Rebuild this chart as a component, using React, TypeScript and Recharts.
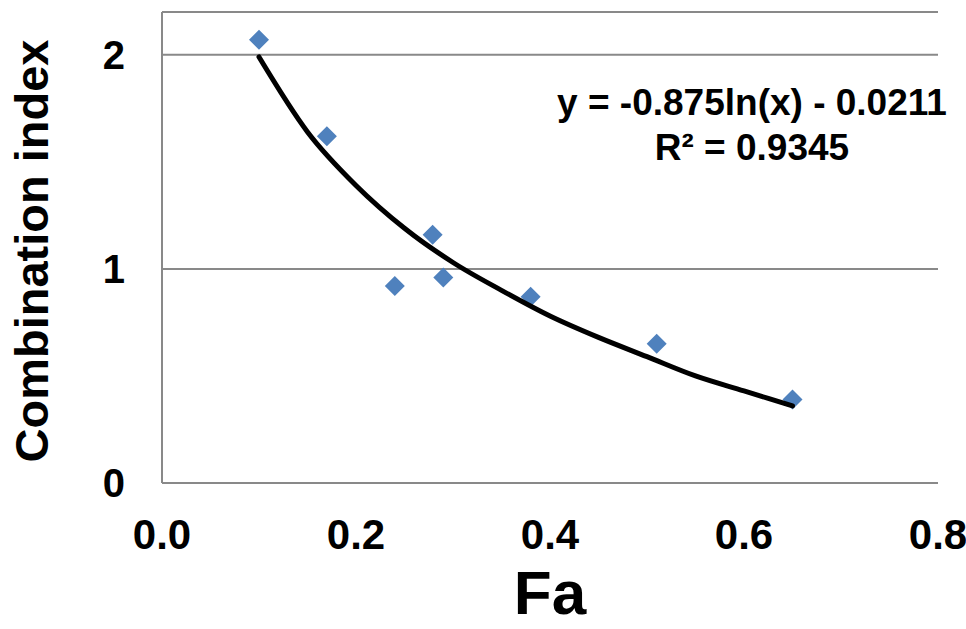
import React from 'react';
import {
  ScatterChart,
  Scatter,
  XAxis,
  YAxis,
  CartesianGrid,
} from 'recharts';

// measured points (Fa vs combination index)
const faValues = [0.1, 0.17, 0.24, 0.279, 0.29, 0.38, 0.51, 0.65];
const ciValues = [2.07, 1.62, 0.92, 1.16, 0.96, 0.87, 0.65, 0.39];

// logarithmic trendline
const trendFa = [0.1, 0.15, 0.2, 0.25, 0.3, 0.35, 0.4, 0.45, 0.5, 0.55, 0.6, 0.65];
const trendCi = [1.99, 1.64, 1.39, 1.19, 1.03, 0.9, 0.78, 0.68, 0.59, 0.5, 0.43, 0.36];

const xTicks = [0, 0.2, 0.4, 0.6, 0.8];
const yTicks = [0, 1, 2];

const equationLines = ['y = -0.875ln(x) - 0.0211', 'R² = 0.9345'];

const points = faValues.map((x, i) => ({ x, y: ciValues[i] }));
const trend = trendFa.map((x, i) => ({ x, y: trendCi[i] }));

const FONT = '"Liberation Sans", Arial, sans-serif';
const AXIS_GRAY = '#898989';

const Diamond = (props: any) => {
  const { cx, cy } = props;
  const r = 10;
  return (
    <polygon
      points={`${cx},${cy - r} ${cx + r},${cy} ${cx},${cy + r} ${cx - r},${cy}`}
      fill="#4F81BD"
    />
  );
};

const NoDot = () => <g />;

export default function App() {
  return (
    <div style={{ position: 'absolute', left: 0, top: 0, width: 966, height: 629, background: '#fff' }}>
      <ScatterChart
        width={966}
        height={629}
        margin={{ top: 12, right: 28, bottom: 0, left: 0 }}
      >
        <CartesianGrid vertical={false} stroke={AXIS_GRAY} strokeWidth={2} />
        <XAxis
          type="number"
          dataKey="x"
          domain={[0, 0.8]}
          ticks={xTicks}
          tickFormatter={(v: number) => v.toFixed(1)}
          height={146}
          tickLine={false}
          tickSize={0}
          tickMargin={36}
          axisLine={{ stroke: AXIS_GRAY, strokeWidth: 2 }}
          tick={{ fill: '#000', fontSize: 42, fontWeight: 'bold', fontFamily: FONT }}
          label={{
            value: 'Fa',
            position: 'insideBottom',
            offset: 15,
            fill: '#000',
            fontSize: 62,
            fontWeight: 'bold',
            fontFamily: FONT,
          }}
        />
        <YAxis
          type="number"
          dataKey="y"
          domain={[0, 2.2]}
          ticks={yTicks}
          width={162}
          tickLine={false}
          tickSize={0}
          tickMargin={37}
          axisLine={{ stroke: AXIS_GRAY, strokeWidth: 2 }}
          tick={{ fill: '#000', fontSize: 40, fontWeight: 'bold', fontFamily: FONT }}
          label={{
            content: () => (
              <text
                x={31}
                y={251}
                transform="rotate(-90, 31, 251)"
                textAnchor="middle"
                dominantBaseline="central"
                fill="#000"
                fontSize={47}
                fontWeight="bold"
                fontFamily={FONT}
              >
                Combination index
              </text>
            ),
          }}
        />
        <Scatter data={points} shape={Diamond} isAnimationActive={false} />
        <Scatter
          data={trend}
          shape={NoDot}
          line={{ stroke: '#000', strokeWidth: 5, strokeLinecap: 'round' }}
          lineJointType="monotoneX"
          isAnimationActive={false}
        />
      </ScatterChart>
      {equationLines.map((t, i) => (
        <div
          key={t}
          style={{
            position: 'absolute',
            left: 552,
            width: 400,
            top: 80 + i * 45,
            textAlign: 'center',
            fontFamily: FONT,
            fontWeight: 'bold',
            fontSize: 37,
            lineHeight: '45px',
            color: '#000',
            whiteSpace: 'nowrap',
          }}
        >
          {t}
        </div>
      ))}
    </div>
  );
}
